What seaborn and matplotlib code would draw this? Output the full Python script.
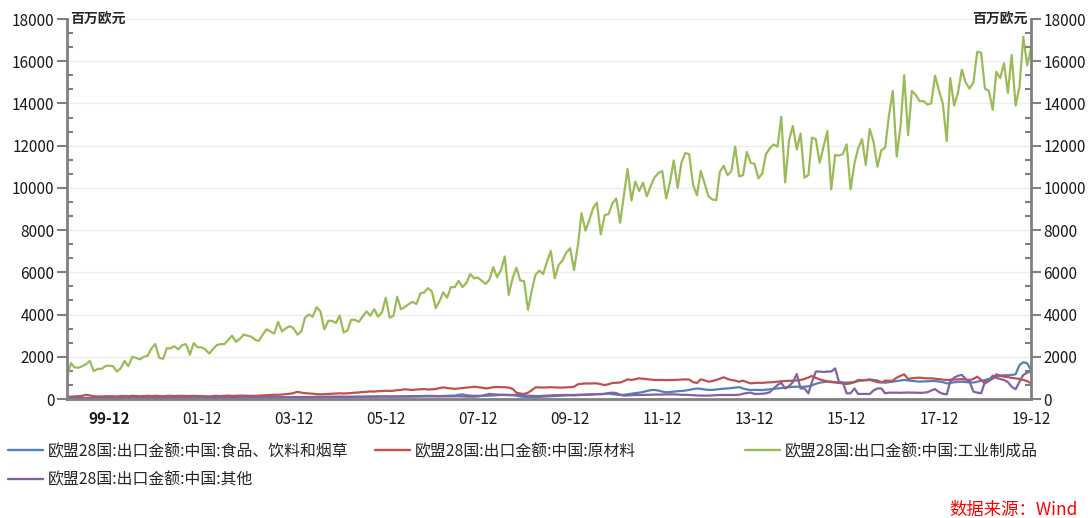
import matplotlib
matplotlib.use('Agg')

import matplotlib.pyplot as plt
from matplotlib.lines import Line2D
from matplotlib.ticker import MultipleLocator
import pandas as pd
import seaborn as sns

# 月度数据 1999-01 ~ 2019-12, 单位: 百万欧元
food = [
    30, 32, 35, 34, 36, 40, 41, 39, 42, 45, 44, 46,
    44, 40, 46, 47, 45, 50, 52, 49, 51, 55, 54, 56,
    55, 50, 56, 57, 55, 60, 61, 59, 62, 64, 63, 66,
    60, 56, 61, 62, 65, 66, 64, 70, 71, 69, 74, 76,
    70, 66, 71, 74, 76, 80, 79, 85, 84, 90, 88, 92,
    86, 80, 85, 90, 92, 95, 94, 100, 102, 105, 104, 110,
    100, 96, 101, 106, 110, 109, 115, 116, 120, 118, 125, 126,
    120, 114, 121, 126, 130, 129, 136, 140, 139, 145, 150, 148,
    140, 135, 145, 150, 155, 160, 200, 220, 180, 160, 150, 152,
    145, 150, 160, 170, 180, 190, 192, 188, 180, 160, 120, 100,
    80, 78, 90, 100, 110, 120, 130, 140, 150, 160, 170, 180,
    170, 180, 190, 200, 210, 220, 230, 240, 240, 250, 230, 210,
    190, 200, 220, 250, 280, 300, 330, 380, 420, 430, 400, 350,
    320, 330, 350, 370, 380, 400, 430, 470, 500, 480, 450, 430,
    430, 450, 470, 490, 500, 520, 540, 560, 500, 450, 430, 430,
    430, 420, 440, 460, 480, 500, 520, 540, 560, 580, 580, 580,
    580, 600, 650, 720, 770, 800, 820, 800, 780, 770, 760, 780,
    790, 800, 850, 880, 900, 930, 900, 880, 800, 770, 800, 820,
    850, 880, 900, 880, 860, 840, 820, 830, 840, 850, 850, 830,
    800, 740, 760, 790, 810, 820, 800, 790, 780, 820, 860, 900,
    950, 980, 1050, 1110, 1120, 1130, 1140, 1170, 1610, 1740, 1690, 1370,
]

raw = [
    100, 110, 120, 130, 150, 200, 170, 130, 120, 120, 130, 130,
    130, 120, 140, 140, 130, 150, 140, 130, 140, 150, 140, 150,
    140, 130, 150, 150, 140, 150, 150, 140, 140, 150, 140, 140,
    130, 120, 140, 150, 140, 150, 160, 150, 150, 160, 160, 150,
    150, 150, 160, 170, 180, 190, 200, 200, 210, 230, 250, 280,
    340, 300, 280, 260, 250, 230, 220, 230, 240, 250, 260, 270,
    260, 270, 280, 300, 310, 330, 340, 360, 350, 370, 380, 390,
    380, 390, 420, 430, 460, 440, 430, 450, 460, 470, 450, 460,
    470, 520, 550, 520, 500, 480, 500, 520, 540, 560, 580, 560,
    540, 500, 520, 560, 570, 560, 560, 540, 480, 300, 260, 240,
    300, 420, 550, 550, 540, 550, 560, 550, 540, 540, 550, 560,
    580, 700, 720, 740, 730, 740, 740, 700, 660, 700, 760, 770,
    780, 850, 930, 900, 940, 980, 960, 940, 920, 900, 900, 900,
    890, 900, 900, 910, 920, 930, 920, 800, 760, 930, 880, 820,
    850, 900, 960, 1030, 950, 900, 870, 820, 870, 800, 740, 760,
    770, 760, 780, 790, 800, 820, 840, 850, 860, 870, 880, 900,
    950, 1020, 1090, 1000, 930, 880, 840, 820, 800, 760, 740, 710,
    740, 800, 900, 880, 890, 900, 860, 800, 780, 870, 860, 870,
    1010, 1100, 1170, 950, 980, 1000, 1010, 990, 980, 980, 960, 940,
    920, 900, 910, 920, 930, 940, 920, 900, 950, 1060, 900, 740,
    850, 980, 1170, 1100, 1060, 1040, 1000, 980, 950, 900, 850, 740,
]

manuf = [
    1050, 1700, 1500, 1480, 1550, 1650, 1800, 1320, 1430, 1420, 1560, 1580,
    1550, 1300, 1450, 1800, 1550, 2000, 1950, 1880, 2000, 2050, 2400, 2600,
    1950, 1900, 2400, 2400, 2500, 2350, 2550, 2600, 2100, 2650, 2450, 2450,
    2350, 2150, 2350, 2550, 2600, 2600, 2800, 3000, 2700, 2850, 3050, 3000,
    2950, 2800, 2750, 3050, 3300, 3200, 3100, 3650, 3200, 3350, 3450, 3350,
    3050, 3200, 3850, 4000, 3900, 4350, 4150, 3300, 3700, 3700, 3600, 3950,
    3150, 3250, 3750, 3750, 3650, 3900, 4150, 3950, 4250, 3900, 4100, 4800,
    3850, 3950, 4850, 4250, 4350, 4500, 4600, 4500, 5000, 5050, 5250, 5100,
    4300, 4650, 5050, 4800, 5300, 5300, 5600, 5300, 5500, 5920, 5720, 5750,
    5600, 5450, 5650, 6250, 5770, 6100, 6750, 4930, 5720, 6220, 5610, 5590,
    4220, 5170, 5880, 6080, 5920, 6510, 7010, 5720, 6350, 6560, 6940, 7140,
    6110, 7300, 8800, 7980, 8450, 9040, 9300, 7800, 8720, 8750, 9270, 9500,
    8350, 9700, 10900, 9400, 10300, 9850, 10250, 9600, 10100, 10500, 10700, 10800,
    9500, 10300, 11300, 10000, 11200, 11650, 11600, 10150, 9650, 10800, 10200, 9600,
    9450, 9420, 10750, 11050, 10600, 10800, 11950, 10550, 10600, 11700, 11190, 11130,
    10450, 10690, 11590, 11870, 12060, 11950, 13370, 10260, 12270, 12930, 11820, 12580,
    10480, 10610, 12380, 12310, 11190, 11950, 12690, 9930, 11560, 11530, 11600, 12060,
    9930, 11160, 11870, 12310, 11080, 12790, 12190, 11000, 11790, 11900, 13450, 14590,
    11480, 12980, 15340, 12500, 14590, 14400, 14110, 14110, 13950, 14000, 15310, 14630,
    14000, 12220, 15200, 13900, 14500, 15600, 15000, 14700, 15000, 16450, 16400, 14700,
    14600, 13700, 15500, 15200, 15900, 14500, 16300, 13900, 14800, 17150, 15800, 16600,
]

other = [
    40, 40, 45, 45, 45, 50, 50, 50, 50, 50, 55, 55,
    55, 50, 55, 55, 60, 60, 60, 60, 60, 65, 65, 65,
    65, 60, 65, 65, 65, 65, 70, 70, 70, 70, 70, 70,
    70, 65, 70, 70, 70, 75, 75, 75, 75, 80, 80, 80,
    80, 75, 80, 80, 85, 85, 85, 85, 90, 90, 90, 90,
    90, 85, 90, 90, 95, 95, 95, 100, 100, 100, 100, 100,
    100, 95, 100, 100, 105, 105, 105, 110, 110, 110, 110, 110,
    110, 105, 110, 110, 115, 115, 115, 120, 120, 120, 120, 120,
    120, 115, 120, 125, 125, 130, 130, 120, 115, 110, 115, 120,
    150, 200, 240, 220, 210, 200, 200, 190, 190, 190, 190, 180,
    160, 150, 140, 140, 150, 160, 170, 180, 180, 190, 190, 190,
    190, 200, 200, 210, 210, 220, 230, 220, 250, 280, 300, 280,
    200, 160, 170, 180, 190, 190, 190, 200, 200, 210, 210, 210,
    220, 220, 220, 210, 200, 200, 190, 180, 170, 160, 160, 160,
    170, 180, 190, 190, 190, 190, 190, 200, 250, 280, 300, 240,
    240, 250, 270, 320, 500, 660, 770, 500, 620, 800, 1180, 500,
    500, 270, 800, 1300, 1300, 1280, 1300, 1300, 1450, 820, 790, 270,
    270, 500, 240, 240, 240, 240, 400, 500, 500, 270, 300, 300,
    300, 290, 300, 310, 300, 300, 290, 300, 320, 400, 470, 330,
    250, 220, 820, 1010, 1100, 1140, 950, 820, 350, 300, 270, 820,
    870, 1110, 1000, 950, 900, 800, 580, 460, 820, 1140, 1250, 1300,
]

series_names = [
    "欧盟28国:出口金额:中国:食品、饮料和烟草",
    "欧盟28国:出口金额:中国:原材料",
    "欧盟28国:出口金额:中国:工业制成品",
    "欧盟28国:出口金额:中国:其他",
]
colors = ["#4F81BD", "#C0504D", "#9BBB59", "#8064A2"]
xtick_labels = ["99-12", "01-12", "03-12", "05-12", "07-12", "09-12",
                "11-12", "13-12", "15-12", "17-12", "19-12"]

months = pd.date_range("1999-01-01", periods=len(manuf), freq="MS")
df = pd.DataFrame({"月份": months, series_names[0]: food, series_names[1]: raw,
                   series_names[2]: manuf, series_names[3]: other})
long_df = df.melt(id_vars="月份", var_name="系列", value_name="金额")

sns.set_theme(style="white")
plt.rcParams['font.family'] = ['Noto Sans CJK SC', 'DejaVu Sans']
plt.rcParams['axes.unicode_minus'] = False

W, H = 1088, 518
fig = plt.figure(figsize=(W / 100, H / 100), dpi=100)
ax = fig.add_axes([67 / W, 1 - 399 / H, (1031 - 67) / W, (399 - 19) / H])

sns.lineplot(data=long_df, x="月份", y="金额", hue="系列", hue_order=series_names,
             palette=dict(zip(series_names, colors)), linewidth=1.6,
             legend=False, ax=ax)

grey = "#808080"
ax.set_xlim(months[0], months[-1])
ax.set_ylim(0, 18000)
ax.set_xlabel("")
ax.set_ylabel("")

# x 轴: 每两年一个标签, 中间一个小刻度
major_x = [pd.Timestamp(f"{y}-12-01") for y in range(1999, 2020, 2)]
minor_x = [pd.Timestamp(f"{y}-12-01") for y in range(2000, 2019, 2)]
ax.set_xticks(major_x)
ax.set_xticks(minor_x, minor=True)
ax.set_xticklabels(xtick_labels)
ax.get_xticklabels()[0].set_fontweight("bold")
ax.tick_params(axis="x", which="major", direction="out", length=7, width=1.5,
               color=grey, labelsize=11, pad=2, labelcolor="#1a1a1a")
ax.tick_params(axis="x", which="minor", direction="out", length=4, width=1.5, color=grey)

ax.yaxis.set_major_locator(MultipleLocator(2000))
ax.yaxis.set_minor_locator(MultipleLocator(2000 / 3))
ax.tick_params(axis="y", which="major", direction="out", length=7, width=1.5,
               color=grey, labelsize=11, pad=2, labelcolor="#1a1a1a")
ax.tick_params(axis="y", which="minor", direction="in", length=4, width=1.5, color=grey)
ax.grid(axis="y", which="major", color="#EDEDED", linewidth=1)
ax.set_axisbelow(True)

for side in ["top", "right"]:
    ax.spines[side].set_visible(False)
for side in ["left", "bottom"]:
    ax.spines[side].set_color(grey)
    ax.spines[side].set_linewidth(2)

# 右侧坐标轴
ax2 = ax.twinx()
ax2.set_ylim(0, 18000)
ax2.yaxis.set_major_locator(MultipleLocator(2000))
ax2.yaxis.set_minor_locator(MultipleLocator(2000 / 3))
ax2.tick_params(axis="y", which="major", direction="out", length=7, width=1.5,
                color=grey, labelsize=11, pad=2, labelcolor="#1a1a1a")
ax2.tick_params(axis="y", which="minor", direction="in", length=4, width=1.5, color=grey)
ax2.grid(False)
for side in ["top", "left", "bottom"]:
    ax2.spines[side].set_visible(False)
ax2.spines["right"].set_color(grey)
ax2.spines["right"].set_linewidth(2)

ax.text(0.003, 1.0, "百万欧元", transform=ax.transAxes, ha="left", va="center",
        fontsize=10, fontweight="bold")
ax2.text(0.997, 1.0, "百万欧元", transform=ax2.transAxes, ha="right", va="center",
         fontsize=10, fontweight="bold")

# 图例: 三列, 位置手动放
handles = [Line2D([0], [0], color=c, lw=1.7) for c in colors]
leg_kw = dict(frameon=False, fontsize=11.4, handlelength=2.2, handletextpad=0.3,
              borderpad=0, borderaxespad=0, labelspacing=0.7, loc="upper left")
fig.legend([handles[0], handles[3]], [series_names[0], series_names[3]],
           bbox_to_anchor=(8 / W, 1 - 443 / H), **leg_kw)
fig.legend([handles[1]], [series_names[1]], bbox_to_anchor=(375 / W, 1 - 443 / H), **leg_kw)
fig.legend([handles[2]], [series_names[2]], bbox_to_anchor=(745 / W, 1 - 443 / H), **leg_kw)

fig.text(1078 / W, 1 - 510 / H, "数据来源：Wind", color="red", fontsize=12.5,
         style="italic", ha="right", va="center")

fig.savefig("out.png", dpi=100)
